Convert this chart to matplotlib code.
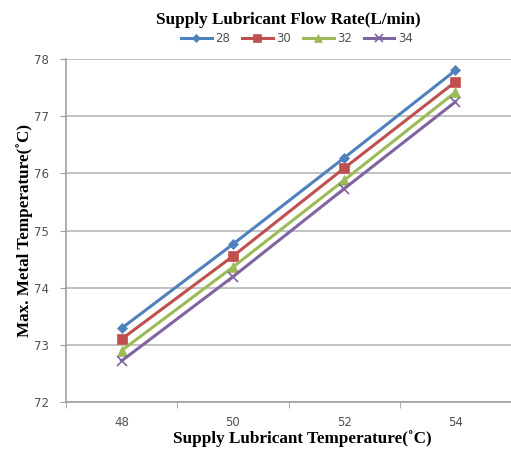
import matplotlib
matplotlib.use("Agg")
from matplotlib import pyplot as plt
import numpy as np

# lubricant supply temperature (C) and max metal temperature per flow rate
temps = ["48", "50", "52", "54"]
flow_rates = ["28", "30", "32", "34"]
t_28 = [73.29, 74.76, 76.27, 77.80]
t_30 = [73.10, 74.55, 76.09, 77.60]
t_32 = [72.90, 74.36, 75.88, 77.42]
t_34 = [72.72, 74.19, 75.73, 77.25]

colors = ["#4F81BD", "#C0504D", "#9BBB59", "#8064A2"]
markers = ["D", "s", "^", "x"]
msizes = [5, 7, 7, 7]

fig = plt.figure(figsize=(5.11, 4.5), dpi=100)
ax = fig.add_axes([66 / 511, 48 / 450, 445 / 511, 343 / 450])

x = np.arange(len(temps))
for vals, lab, c, m, ms in zip([t_28, t_30, t_32, t_34], flow_rates, colors, markers, msizes):
    ax.plot(x, vals, color=c, marker=m, markersize=ms, linewidth=2.2, label=lab,
            markeredgewidth=1.2 if m == "x" else 0.5)

ax.set_xlim(-0.5, 3.5)
ax.set_ylim(72, 78)
ax.set_yticks(np.arange(72, 79, 1))
ax.set_xticks(x)
ax.set_xticklabels(temps)
ax.set_xticks(np.arange(-0.5, 4, 1), minor=True)
ax.tick_params(axis="x", which="major", length=0, pad=10, labelsize=8.5, labelcolor="#505050")
ax.tick_params(axis="x", which="minor", length=4, color="#a0a0a0")
ax.tick_params(axis="y", length=4, color="#a0a0a0", labelsize=8.5, labelcolor="#505050", pad=8)
for lbl in ax.get_xticklabels() + ax.get_yticklabels():
    lbl.set_fontfamily("DejaVu Sans")

ax.grid(axis="y", color="#b8b8b8", linewidth=1.2)
ax.set_axisbelow(True)
for s in ["top", "right"]:
    ax.spines[s].set_visible(False)
for s in ["left", "bottom"]:
    ax.spines[s].set_color("#a0a0a0")
    ax.spines[s].set_linewidth(1.2)

serif = "Liberation Serif"
ax.set_xlabel("Supply Lubricant Temperature(˚C)", fontfamily=serif, fontweight="bold",
              fontsize=12.3, labelpad=1)
ax.xaxis.label.set_x(0.53)
ax.set_ylabel("Max. Metal Temperature(˚C)", fontfamily=serif, fontweight="bold",
              fontsize=12.3, labelpad=1)

fig.text(288 / 511, 1 - 20 / 450, "Supply Lubricant Flow Rate(L/min)", fontfamily=serif,
         fontweight="bold", fontsize=12.3, ha="center", va="center")
leg = fig.legend(loc="center", bbox_to_anchor=(297 / 511, 1 - 39 / 450), ncol=4, frameon=False,
                 fontsize=8.5, handlelength=2.6, columnspacing=1.0, handletextpad=0.3,
                 markerscale=0.8)
for t in leg.get_texts():
    t.set_color("#505050")

fig.savefig("out.png", dpi=100)
